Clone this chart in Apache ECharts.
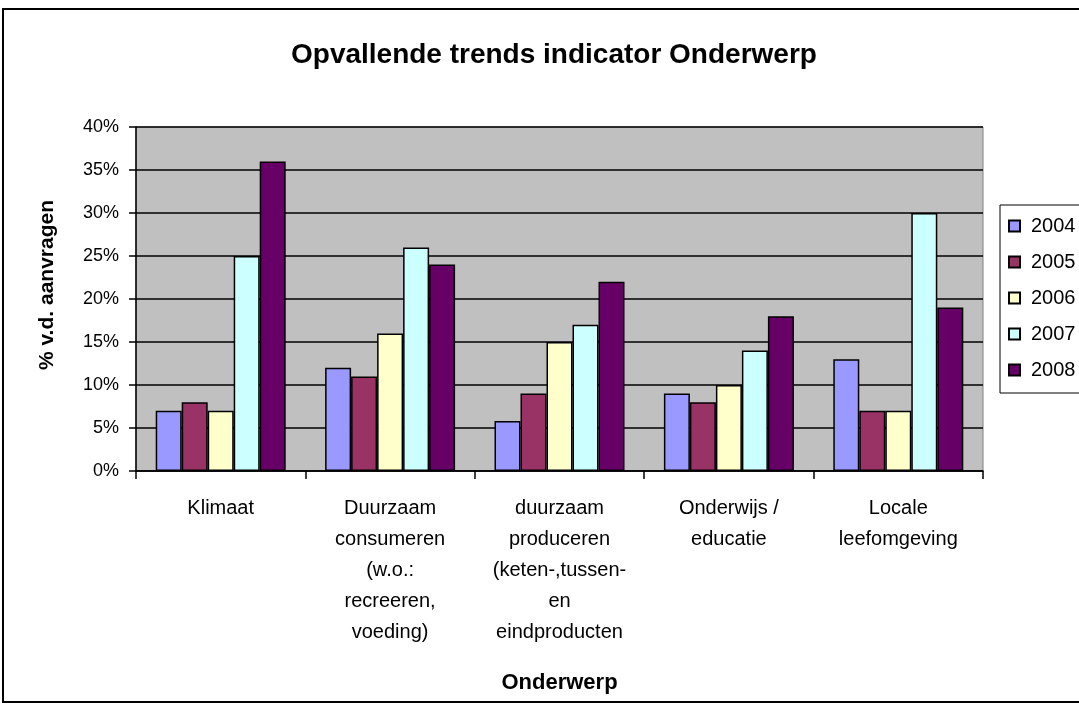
<!DOCTYPE html>
<html lang="nl">
<head>
<meta charset="UTF-8" />
<script src="https://cdn.jsdelivr.net/npm/echarts@6/dist/echarts.min.js"></script>
<title>Opvallende trends</title>
<style>
  * { padding: 0; margin: 0; }
  body { background: #fff; }
</style>
</head>
<body>
<div id="main" style="width:1079px;height:704px"></div>
<script>
// onderwerpen (x-as)
var categories = [
  "Klimaat",
  "Duurzaam\nconsumeren\n(w.o.:\nrecreeren,\nvoeding)",
  "duurzaam\nproduceren\n(keten-,tussen-\nen\neindproducten",
  "Onderwijs /\neducatie",
  "Locale\nleefomgeving"
]
var years = ["2004", "2005", "2006", "2007", "2008"]
// percentages per jaar
var v2004 = [7, 12, 5.8, 9, 13]
var v2005 = [8, 11, 9, 8, 7]
var v2006 = [7, 16, 15, 10, 7]
var v2007 = [25, 26, 17, 14, 30]
var v2008 = [36, 24, 22, 18, 19]
var colors = ["#9999FF", "#993366", "#FFFFCC", "#CCFFFF", "#660066"]

var values = [v2004, v2005, v2006, v2007, v2008]
var font = "Liberation Sans, Arial, sans-serif"

var series = years.map(function (y, i) {
  return {
    name: y,
    type: "bar",
    barWidth: 26,
    barGap: "0%",
    data: values[i],
    itemStyle: { color: colors[i], borderColor: "#000", borderWidth: 1.5 }
  }
})

var chart = echarts.init(document.getElementById("main"))
chart.setOption({
  backgroundColor: "#fff",
  animation: false,
  textStyle: { fontFamily: font },
  title: {
    text: "Opvallende trends indicator Onderwerp",
    left: 286,
    top: 36,
    textStyle: { fontFamily: font, fontSize: 28, fontWeight: "bold", color: "#000" }
  },
  graphic: [
    {
      type: "rect",
      shape: { x: 3, y: 9, width: 1100, height: 693 },
      style: { fill: null, stroke: "#000", lineWidth: 2 },
      z: 100
    }
  ],
  legend: {
    orient: "vertical",
    left: 1000,
    top: 205,
    data: years,
    icon: "rect",
    itemWidth: 11,
    itemHeight: 11,
    itemGap: 16,
    padding: [11, 30, 13, 8],
    borderColor: "#000",
    borderWidth: 1,
    textStyle: { fontFamily: font, fontSize: 20, color: "#000", padding: [0, 0, 0, 6] }
  },
  grid: {
    left: 136,
    right: 96,
    top: 127,
    bottom: 233,
    show: true,
    backgroundColor: "#C0C0C0",
    borderColor: "#808080",
    borderWidth: 1
  },
  xAxis: {
    type: "category",
    data: categories,
    name: "Onderwerp",
    nameLocation: "middle",
    nameGap: 201,
    nameTextStyle: { fontFamily: font, fontSize: 22, fontWeight: "bold", color: "#000" },
    axisLine: { lineStyle: { color: "#000", width: 1.5 } },
    axisTick: { show: true, length: 8, lineStyle: { color: "#000", width: 1.5 } },
    axisLabel: {
      interval: 0,
      margin: 22,
      fontSize: 20,
      lineHeight: 31,
      color: "#000",
      fontFamily: font,
      align: "center"
    }
  },
  yAxis: {
    type: "value",
    min: 0,
    max: 40,
    interval: 5,
    name: "% v.d. aanvragen",
    nameLocation: "middle",
    nameGap: 78,
    nameRotate: 90,
    nameTextStyle: {
      fontFamily: font,
      fontSize: 21,
      fontWeight: "bold",
      color: "#000",
      padding: [0, 0, 0, 28]
    },
    axisLine: { show: true, lineStyle: { color: "#000", width: 1.5 } },
    axisTick: { show: true, length: 7, lineStyle: { color: "#000", width: 1.5 } },
    splitLine: { show: true, lineStyle: { color: "#000", width: 1.5 } },
    axisLabel: {
      formatter: "{value}%",
      fontSize: 18,
      color: "#000",
      fontFamily: font,
      margin: 17
    }
  },
  series: series
})
</script>
</body>
</html>
